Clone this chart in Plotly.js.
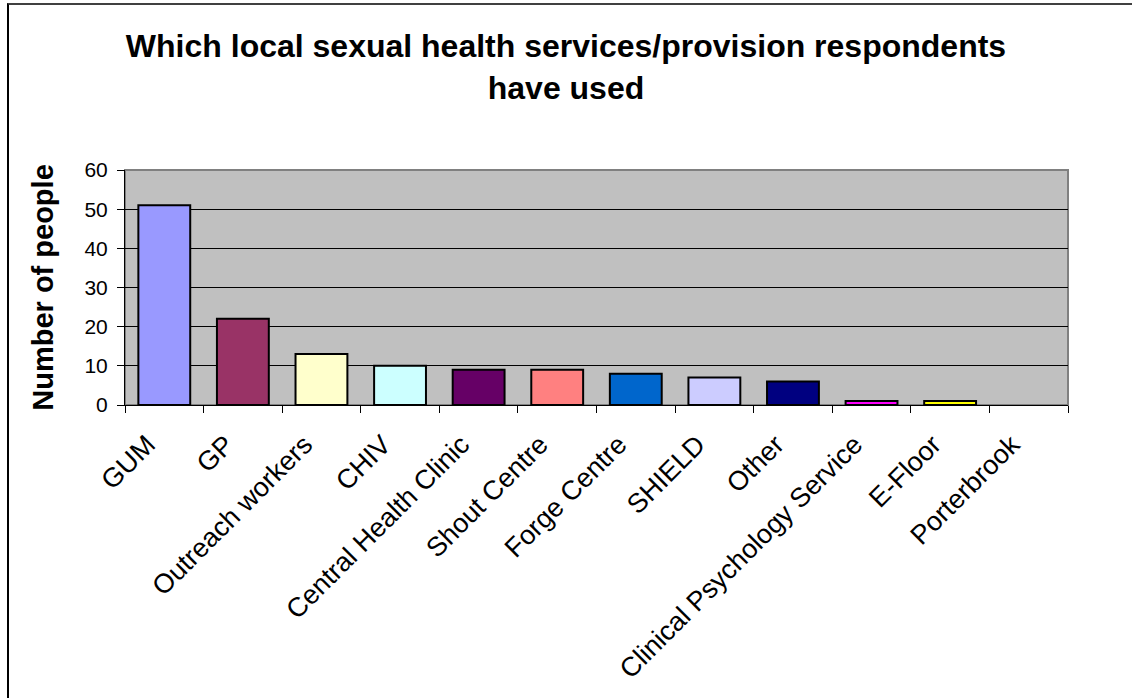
<!DOCTYPE html>
<html>
<head>
<meta charset="utf-8">
<script src="https://cdn.plot.ly/plotly-3.0.1.min.js"></script>
<style>
html,body{margin:0;padding:0;background:#fff;}
#chart{width:1132px;height:698px;position:absolute;left:0;top:0;}
#frame{position:absolute;left:7px;top:3px;width:1140px;height:710px;border-top:2px solid #404040;border-left:2px solid #000;pointer-events:none;}
</style>
</head>
<body>
<div id="chart"></div>
<div id="frame"></div>
<script>
const categories = ["GUM","GP","Outreach workers","CHIV","Central Health Clinic","Shout Centre","Forge Centre","SHIELD","Other","Clinical Psychology Service","E-Floor","Porterbrook"];
const values = [51,22,13,10,9,9,8,7,6,1,1,0];
const barColors = ["#9999FF","#993366","#FFFFCC","#CCFFFF","#660066","#FF8080","#0066CC","#CCCCFF","#000080","#FF00FF","#FFFF00","#00FFFF"];
const yTicks = [0,10,20,30,40,50,60];

const font = '"Liberation Sans", Arial, sans-serif';

const trace = {
  type: 'bar',
  x: categories,
  y: values,
  width: 0.66,
  marker: {color: barColors, line: {color: '#000', width: values.map(v => v > 0 ? 2 : 0)}},
  hoverinfo: 'none'
};

const layout = {
  width: 1132, height: 698,
  margin: {l: 125, r: 64, t: 170, b: 293, pad: 0},
  paper_bgcolor: '#fff',
  plot_bgcolor: '#C0C0C0',
  showlegend: false,
  bargap: 0.34,
  font: {family: font, color: '#000'},
  title: {
    text: 'Which local sexual health services/provision respondents<br>have used',
    font: {family: font, size: 32, color: '#000', weight: 'bold'},
    x: 0.5, xref: 'container', xanchor: 'center',
    y: 1 - 57/698, yref: 'container', yanchor: 'middle'
  },
  xaxis: {
    type: 'category',
    tickangle: -45,
    tickson: 'boundaries',
    ticks: 'outside', ticklen: 7, tickwidth: 1, tickcolor: '#000',
    showline: true, linecolor: '#000', linewidth: 1,
    showgrid: false,
    tickfont: {family: font, size: 27, color: '#000'},
    ticklabelstandoff: 12,
    ticklabelshift: -17,
    fixedrange: true
  },
  yaxis: {
    range: [0, 60],
    tickvals: yTicks,
    ticktext: yTicks.map(String),
    ticks: 'outside', ticklen: 7, tickwidth: 1, tickcolor: '#000',
    showline: true, linecolor: '#000', linewidth: 1,
    showgrid: true, gridcolor: '#000', gridwidth: 1,
    zeroline: false,
    tickfont: {family: font, size: 21, color: '#000'},
    ticklabelstandoff: 5,
    title: {text: 'Number of people', font: {family: font, size: 29, color: '#000', weight: 'bold'}, standoff: 22},
    fixedrange: true
  },
  shapes: [{
    type: 'rect', xref: 'paper', yref: 'paper', x0: 0, x1: 1, y0: 0, y1: 1,
    line: {color: '#808080', width: 2}, layer: 'below'
  }]
};

Plotly.newPlot('chart', [trace], layout, {displayModeBar: false, staticPlot: true});
</script>
</body>
</html>
